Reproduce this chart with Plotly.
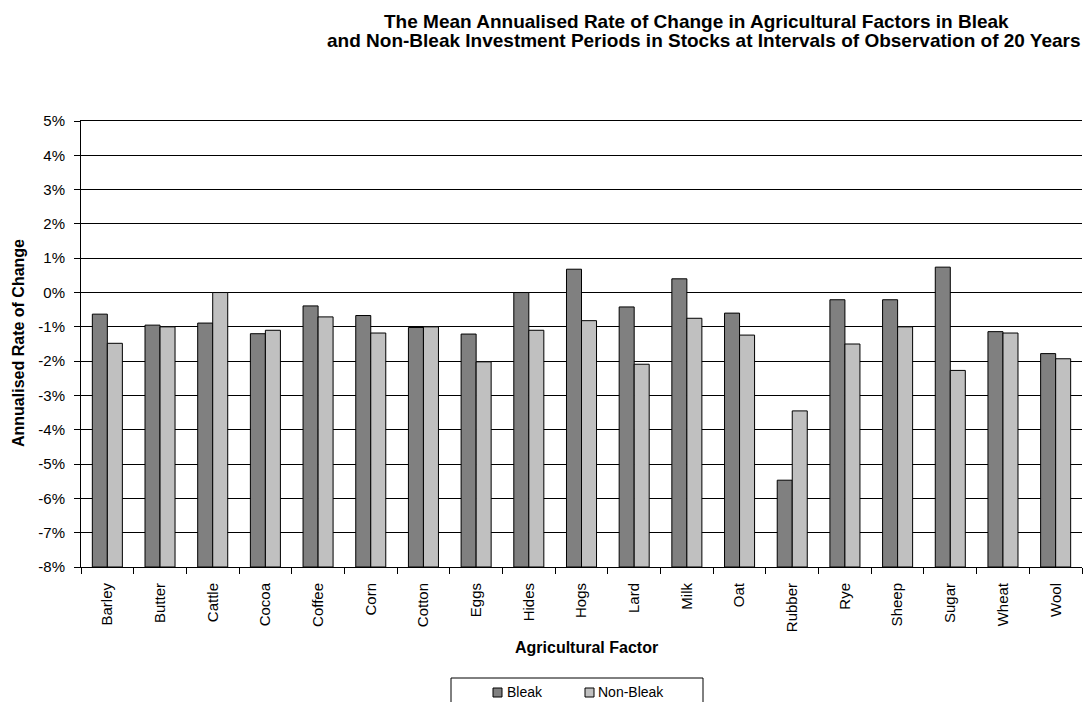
import plotly.graph_objects as go

# Agricultural factors and mean annualised rate of change (%)
factors = ["Barley", "Butter", "Cattle", "Cocoa", "Coffee", "Corn", "Cotton",
           "Eggs", "Hides", "Hogs", "Lard", "Milk", "Oat", "Rubber", "Rye",
           "Sheep", "Sugar", "Wheat", "Wool"]
bleak = [-0.63, -0.95, -0.89, -1.20, -0.39, -0.67, -1.02, -1.21, 0.00, 0.68,
         -0.42, 0.40, -0.60, -5.47, -0.21, -0.21, 0.74, -1.14, -1.78]
non_bleak = [-1.48, -1.00, 0.00, -1.10, -0.71, -1.18, -1.00, -2.02, -1.10, -0.82,
             -2.09, -0.75, -1.24, -3.45, -1.50, -1.00, -2.27, -1.18, -1.93]

y_ticks = list(range(-8, 6))
y_tick_labels = [f"{v}%" for v in y_ticks]

BLEAK_COLOR = "#808080"
NON_BLEAK_COLOR = "#c0c0c0"
FONT = "Liberation Sans, Arial, sans-serif"
AXIS_FLOOR = -8  # category axis crosses the value axis here

W, H = 1083, 702
L, R, T, B = 81, 1, 121, 135
PW, PH = W - L - R, H - T - B


def px_x(x):
    return (x - L) / PW


def px_y(y):
    return (H - B - y) / PH


fig = go.Figure()
for name, vals, color in [("Bleak", bleak, BLEAK_COLOR),
                          ("Non-Bleak", non_bleak, NON_BLEAK_COLOR)]:
    fig.add_trace(go.Bar(
        name=name,
        x=factors,
        y=[v - AXIS_FLOOR for v in vals],
        base=AXIS_FLOOR,
        customdata=vals,
        hovertemplate="%{x}: %{customdata:.2f}%<extra>" + name + "</extra>",
        marker=dict(color=color, line=dict(color="#000000", width=1)),
    ))

fig.update_layout(
    width=W, height=H,
    margin=dict(l=L, r=R, t=T, b=B),
    paper_bgcolor="white", plot_bgcolor="white",
    barmode="group", bargap=0.43, bargroupgap=0,
    showlegend=False,
    font=dict(family=FONT, size=15, color="#000000"),
)

fig.update_xaxes(
    type="category",
    showline=True, linecolor="#000000", linewidth=1, mirror=True,
    ticks="outside", tickson="boundaries", ticklen=6, tickcolor="#000000",
    tickangle=-90, tickfont=dict(size=15), ticklabelstandoff=9,
    showgrid=False,
)
fig.update_yaxes(
    range=[-8, 5],
    tickvals=y_ticks, ticktext=y_tick_labels,
    showline=True, linecolor="#000000", linewidth=1,
    ticks="outside", ticklen=6, tickcolor="#000000", ticklabelstandoff=6,
    showgrid=True, gridcolor="#000000", gridwidth=1,
    zeroline=False, tickfont=dict(size=15),
)

annotations = [
    dict(text="<b>The Mean Annualised Rate of Change in Agricultural Factors in Bleak</b>",
         x=px_x(696), y=px_y(21), font=dict(size=19)),
    dict(text="<b>and Non-Bleak Investment Periods in Stocks at Intervals of Observation of 20 Years</b>",
         x=px_x(704), y=px_y(41), font=dict(size=19)),
    dict(text="<b>Agricultural Factor</b>", x=px_x(586), y=px_y(647), font=dict(size=16)),
    dict(text="<b>Annualised Rate of Change</b>", x=px_x(18), y=px_y(343),
         textangle=-90, font=dict(size=16)),
    dict(text="Bleak", x=px_x(505), y=px_y(692), xanchor="left", font=dict(size=14)),
    dict(text="Non-Bleak", x=px_x(596), y=px_y(692), xanchor="left", font=dict(size=14)),
]
for a in annotations:
    a.setdefault("xanchor", "center")
    fig.add_annotation(xref="paper", yref="paper", yanchor="middle",
                       showarrow=False, **a)

# Legend frame and swatches
shapes = [
    dict(x0=px_x(451), x1=px_x(703), y0=px_y(678), y1=px_y(710),
         line=dict(color="#000000", width=1), fillcolor="white"),
    dict(x0=px_x(493), x1=px_x(502), y0=px_y(688), y1=px_y(697),
         line=dict(color="#000000", width=1), fillcolor=BLEAK_COLOR),
    dict(x0=px_x(585), x1=px_x(594), y0=px_y(688), y1=px_y(697),
         line=dict(color="#000000", width=1), fillcolor=NON_BLEAK_COLOR),
]
for s in shapes:
    fig.add_shape(type="rect", xref="paper", yref="paper", layer="below", **s)

fig.write_html("out.html")
